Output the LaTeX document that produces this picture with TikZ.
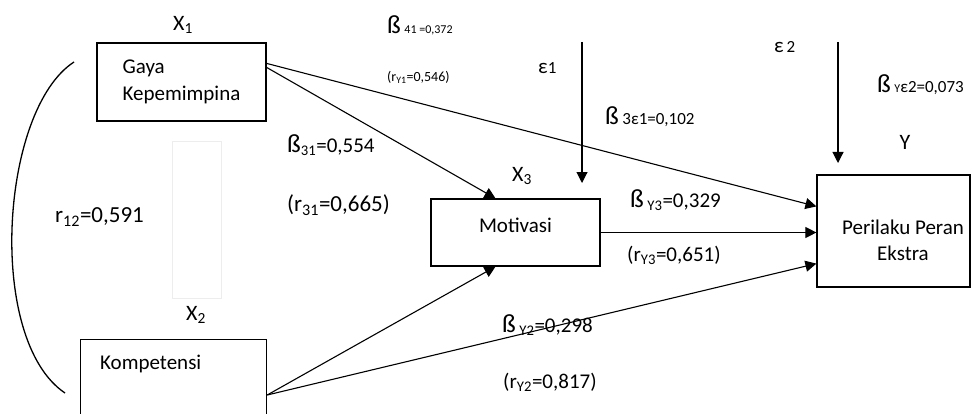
\documentclass[tikz,border=0pt]{standalone}
\usepackage{fontspec}
\setmainfont{Carlito}
\usetikzlibrary{arrows.meta,calc}
\newcommand\smtxt{\fontsize{12}{14}\selectfont}
\newcommand\mdtxt{\fontsize{17}{19}\selectfont}
\newcommand\bigss{{\fontsize{26}{28}\selectfont ß}}

\begin{document}
\begin{tikzpicture}[x=1pt,y=-1pt,
      >={Triangle[length=11pt,width=11pt]},
      box/.style={draw,line width=1.2pt,inner sep=0pt,align=center,
        font=\fontsize{21}{27}\selectfont},
      link/.style={->,line width=1.1pt},
      lbl/.style={anchor=west,inner sep=0pt,font=\fontsize{21}{25}\selectfont},
      var/.style={inner sep=0pt,font=\fontsize{22}{25}\selectfont}
    ]
    \path[use as bounding box] (0,0) rectangle (973,414);

    % boxes
    \node[box,align=left,minimum width=169pt,minimum height=78pt] (x1) at (181.5,82)
      {Gaya\\Kepemimpina};
    \node[box,anchor=north west,minimum width=186pt,minimum height=100pt] (x2) at (80,339) {};
    \node[lbl] (x2t) at ($(x2.north west)+(20,25)$) {Kompetensi};
    \node[box,minimum width=169pt,minimum height=67pt] (mot) at (515.5,232.5)
      {\raisebox{14pt}{Motivasi}};
    \node[box,minimum width=153pt,minimum height=112pt] (y) at (893.5,231) {};
    \node[box,draw=none,font=\fontsize{21}{26}\selectfont] (yt) at (903,240)
      {Perilaku Peran\\Ekstra};
    \draw[black!7] (172,141) rectangle (221,298);

    % variable names
    \node[var] (x1n) at (183,25) {X\textsubscript{1}};
    \node[var] (x2n) at (196,315) {X\textsubscript{2}};
    \node[var] (x3n) at (522,176) {X\textsubscript{3}};
    \node[var] (yn) at (905,142) {Y};
    \node[lbl] (e1n) at (538,68) {ε{\mdtxt 1}};
    \node[lbl] (e2n) at (774,47) {ε{\mdtxt\,2}};

    % paths
    \draw[link] ([yshift=-21pt]x1.north east) -- ([yshift=-32pt]y.north west);
    \draw[link] ([yshift=-25pt]x1.north east) -- ([xshift=-20pt]mot.north);
    \draw[link] ([yshift=-56pt]x2.north east) -- ([xshift=-20pt]mot.south);
    \draw[link] ([yshift=-56pt]x2.north east) -- ([yshift=24pt]y.south west);
    \draw[link] (mot.east) -- (mot.east -| y.west);

    \coordinate (e1s) at (582,42);
    \coordinate (e1e) at (582,183);
    \coordinate (e2s) at (838,42);
    \coordinate (e2e) at (838,163);
    \draw[link] (e1s) -- (e1e);
    \draw[link] (e2s) -- (e2e);

    \coordinate (rtop) at (74,62);
    \coordinate (rbot) at (65,393);
    \draw[line width=1.3pt] (rtop) .. controls (0,110) and (-14,340) .. (rbot);

    % coefficients
    \node[lbl] (b41) at (387,25) {\bigss\,{\smtxt 41 =0,372}};
    \node[lbl,font=\fontsize{14}{16}\selectfont] (ry1) at (387,77) {(r\textsubscript{Y1}=0,546)};
    \node[lbl] (b31) at (287,145) {\bigss\textsubscript{31}=0,554};
    \node[lbl,font=\fontsize{23}{26}\selectfont] (r31) at (287,205) {(r\textsubscript{31}=0,665)};
    \node[lbl] (b3e1) at (605,117) {\bigss\,{\mdtxt 3ε1=0,102}};
    \node[lbl] (bye2) at (877,85) {\bigss\,{\smtxt Y}{\mdtxt ε2=0,073}};
    \node[lbl] (by3) at (630,200) {\bigss\,\textsubscript{Y3}=0,329};
    \node[lbl] (ry3) at (627,255) {(r\textsubscript{Y3}=0,651)};
    \node[lbl] (by2) at (502,325) {\bigss\,\textsubscript{Y2}=0,298};
    \node[lbl] (ry2) at (503,382) {(r\textsubscript{Y2}=0,817)};
    \node[lbl,font=\fontsize{23}{26}\selectfont] (r12) at (55,217) {r\textsubscript{12}=0,591};
  \end{tikzpicture}
\end{document}
